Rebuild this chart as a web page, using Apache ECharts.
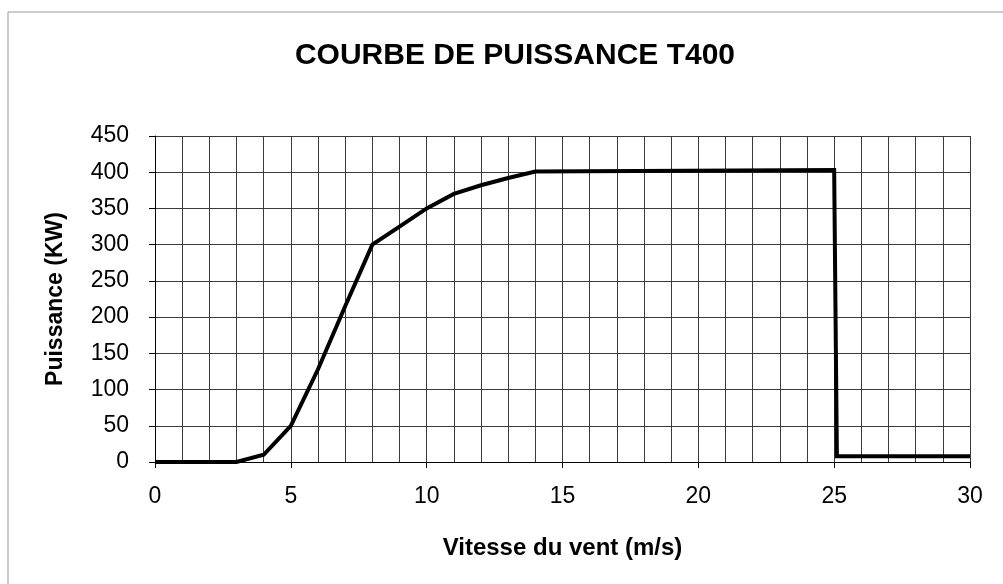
<!DOCTYPE html>
<html>
<head>
<meta charset="utf-8">
<script src="https://cdn.jsdelivr.net/npm/echarts@6/dist/echarts.min.js"></script>
<style>
  html, body { margin: 0; padding: 0; background: #fff; }
  #main { width: 1003px; height: 584px; }
</style>
</head>
<body>
<div id="main"></div>
<script>
// vitesse du vent (m/s) et puissance (KW)
var vitesse = [0, 1, 2, 3, 4, 5, 6, 7, 8, 9, 10, 11, 12, 13, 14, 25, 25.1, 30];
var puissance = [0, 0, 0, 0, 10, 50, 128, 215, 300, 325, 350, 370, 382, 392, 401, 403, 8, 8];
var titre = 'COURBE DE PUISSANCE T400';

var points = vitesse.map(function (v, i) {
    return [v, puissance[i]];
});

var myChart = echarts.init(document.getElementById('main'));
var gridStyle = { color: '#3a3a3a', width: 1, type: 'solid' };
var option = {
    animation: false,
    backgroundColor: '#fff',
    title: {
        text: titre,
        left: 510,
        top: 36,
        textAlign: 'center',
        textStyle: { fontFamily: 'Liberation Sans', fontWeight: 'bold', fontSize: 30, color: '#000' }
    },
    graphic: [{
        type: 'rect',
        shape: { x: 8, y: 12, width: 1100, height: 700 },
        style: { fill: 'none', stroke: '#999', lineWidth: 1 },
        silent: true
    }],
    grid: { left: 155, right: 33, top: 136, bottom: 122 },
    xAxis: {
        type: 'value',
        min: 0,
        max: 30,
        interval: 5,
        name: 'Vitesse du vent (m/s)',
        nameLocation: 'middle',
        nameGap: 74,
        nameTextStyle: { fontFamily: 'Liberation Sans', fontWeight: 'bold', fontSize: 24, color: '#000' },
        axisLine: { lineStyle: { color: '#000', width: 1 } },
        axisTick: { show: true, length: 6, lineStyle: { color: '#000' } },
        axisLabel: { margin: 23, fontFamily: 'Liberation Sans', fontSize: 23, color: '#000' },
        splitLine: { show: true, lineStyle: gridStyle },
        minorTick: { show: false, splitNumber: 5 },
        minorSplitLine: { show: true, lineStyle: gridStyle }
    },
    yAxis: {
        type: 'value',
        min: 0,
        max: 450,
        interval: 50,
        name: 'Puissance (KW)',
        nameLocation: 'middle',
        nameGap: 88,
        nameTextStyle: { fontFamily: 'Liberation Sans', fontWeight: 'bold', fontSize: 23, color: '#000' },
        axisLine: { show: true, lineStyle: { color: '#000', width: 1 } },
        axisTick: { show: true, length: 6, lineStyle: { color: '#000' } },
        axisLabel: { margin: 26, fontFamily: 'Liberation Sans', fontSize: 23, color: '#000' },
        splitLine: { show: true, lineStyle: gridStyle }
    },
    series: [{
        type: 'line',
        data: points,
        symbol: 'none',
        lineStyle: { color: '#000', width: 4, join: 'miter' }
    }]
};
myChart.setOption(option);
</script>
</body>
</html>
